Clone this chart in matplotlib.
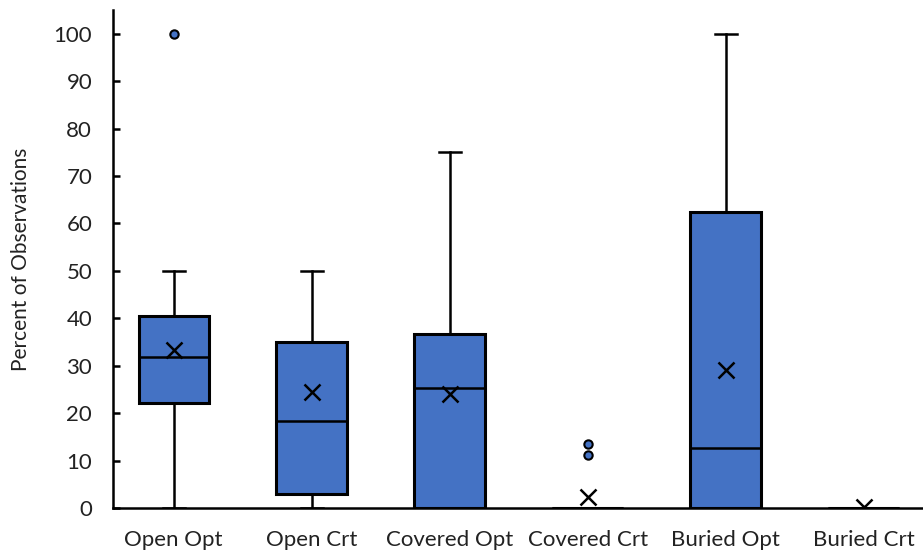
import matplotlib.pyplot as plt

plt.rcParams['font.family'] = ['Lato', 'DejaVu Sans']

categories = ["Open Opt", "Open Crt", "Covered Opt", "Covered Crt", "Buried Opt", "Buried Crt"]
whislo = [0, 0, 0, 0, 0, 0]
q1 = [22.2, 3.0, 0, 0, 0, 0]
med = [31.9, 18.4, 25.2, 0, 12.7, 0]
q3 = [40.5, 35.0, 36.7, 0, 62.4, 0]
whishi = [50, 50, 75.1, 0, 100, 0]
means = [33.3, 24.5, 24.0, 2.3, 29.1, 0.3]
outliers = [[100], [], [], [11.2, 13.5], [], []]

stats = []
for i, name in enumerate(categories):
    stats.append(dict(label=name, whislo=whislo[i], q1=q1[i], med=med[i], q3=q3[i],
                      whishi=whishi[i], mean=means[i], fliers=outliers[i]))

fig = plt.figure(figsize=(9.23, 5.54), dpi=100)
ax = fig.add_axes([0.1224, 0.083, 0.8776, 0.899])

blue = "#4472C4"
ax.bxp(stats, positions=range(len(categories)), widths=0.51, capwidths=0.16,
       showmeans=True, patch_artist=True,
       boxprops=dict(facecolor=blue, edgecolor="black", linewidth=2.2),
       medianprops=dict(color="black", linewidth=1.8),
       whiskerprops=dict(color="black", linewidth=1.8),
       capprops=dict(color="black", linewidth=1.8),
       meanprops=dict(marker="x", markeredgecolor="black", markersize=11, markeredgewidth=1.8),
       flierprops=dict(marker="o", markerfacecolor=blue, markeredgecolor="black",
                       markersize=6, markeredgewidth=1.5))

ax.set_xlim(-0.44, 5.43)
ax.set_ylim(0, 105)
ax.set_yticks(range(0, 101, 10))
ax.spines["top"].set_visible(False)
ax.spines["right"].set_visible(False)
ax.spines["left"].set_linewidth(1.8)
ax.spines["bottom"].set_linewidth(1.8)
ax.tick_params(axis="y", direction="in", length=5, width=1.8, labelsize=16, pad=15,
               labelcolor="#222222")
ax.tick_params(axis="x", length=0, labelsize=16, pad=16, labelcolor="#222222")
ax.set_ylabel("Percent of Observations", fontsize=15, labelpad=16, color="#222222")

fig.savefig("out.png", dpi=100)
